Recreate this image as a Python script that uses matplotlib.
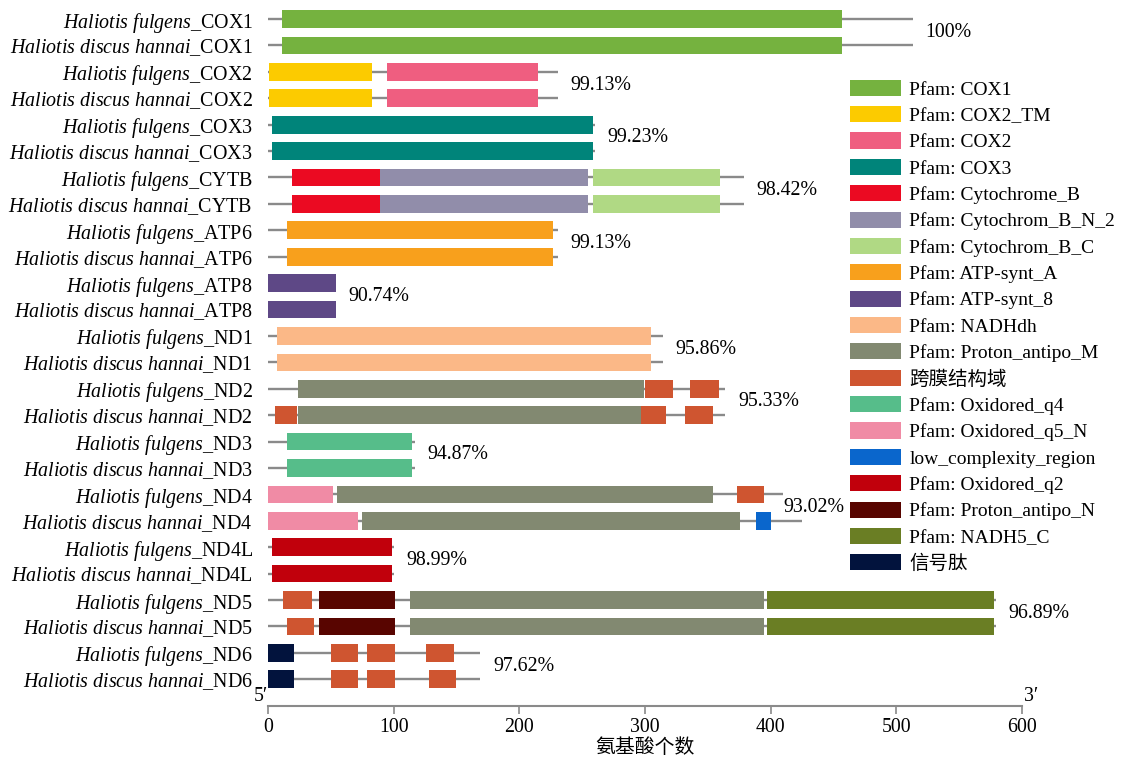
import matplotlib
matplotlib.use('Agg')
import matplotlib.pyplot as plt
from matplotlib.patches import Patch

plt.rcParams['font.family'] = ['Liberation Serif', 'Noto Sans CJK SC']
plt.rcParams['mathtext.fontset'] = 'custom'
plt.rcParams['mathtext.rm'] = 'Liberation Serif'
plt.rcParams['mathtext.it'] = 'Liberation Serif:italic'

# genes and pairwise identity between the two abalones
genes = ['COX1', 'COX2', 'COX3', 'CYTB', 'ATP6', 'ATP8', 'ND1',
         'ND2', 'ND3', 'ND4', 'ND4L', 'ND5', 'ND6']
identity = ['100%', '99.13%', '99.23%', '98.42%', '99.13%', '90.74%', '95.86%',
            '95.33%', '94.87%', '93.02%', '98.99%', '96.89%', '97.62%']
species = ['Haliotis fulgens', 'Haliotis discus hannai']

# protein lengths (aa)
len_fulgens = [513, 231, 260, 379, 231, 54, 314, 364, 117, 410, 100, 579, 169]
len_hannai = [513, 231, 260, 379, 231, 54, 314, 364, 117, 425, 100, 579, 169]

# domains: (start, end, type)
dom_fulgens = [
    [(11, 457, 'COX1')],
    [(1, 83, 'COX2_TM'), (95, 215, 'COX2')],
    [(3, 259, 'COX3')],
    [(19, 89, 'CytB'), (89, 255, 'CytB_N2'), (259, 360, 'CytB_C')],
    [(15, 227, 'ATPA')],
    [(0, 54, 'ATP8')],
    [(7, 305, 'NADHdh')],
    [(24, 299, 'PAM'), (300, 322, 'TM'), (336, 359, 'TM')],
    [(15, 115, 'q4')],
    [(0, 52, 'q5N'), (55, 354, 'PAM'), (373, 395, 'TM')],
    [(3, 99, 'q2')],
    [(12, 35, 'TM'), (41, 101, 'PAN'), (113, 395, 'PAM'), (397, 578, 'N5C')],
    [(0, 21, 'SP'), (50, 72, 'TM'), (79, 101, 'TM'), (126, 148, 'TM')],
]
dom_hannai = [
    [(11, 457, 'COX1')],
    [(1, 83, 'COX2_TM'), (95, 215, 'COX2')],
    [(3, 259, 'COX3')],
    [(19, 89, 'CytB'), (89, 255, 'CytB_N2'), (259, 360, 'CytB_C')],
    [(15, 227, 'ATPA')],
    [(0, 54, 'ATP8')],
    [(7, 305, 'NADHdh')],
    [(6, 23, 'TM'), (24, 297, 'PAM'), (297, 317, 'TM'), (332, 354, 'TM')],
    [(15, 115, 'q4')],
    [(0, 72, 'q5N'), (75, 376, 'PAM'), (388, 400, 'LCR')],
    [(3, 99, 'q2')],
    [(15, 37, 'TM'), (41, 101, 'PAN'), (113, 395, 'PAM'), (397, 578, 'N5C')],
    [(0, 21, 'SP'), (50, 72, 'TM'), (79, 101, 'TM'), (128, 150, 'TM')],
]

dom_keys = ['COX1', 'COX2_TM', 'COX2', 'COX3', 'CytB', 'CytB_N2', 'CytB_C',
            'ATPA', 'ATP8', 'NADHdh', 'PAM', 'TM', 'q4', 'q5N', 'LCR',
            'q2', 'PAN', 'N5C', 'SP']
dom_labels = ['Pfam: COX1', 'Pfam: COX2_TM', 'Pfam: COX2', 'Pfam: COX3',
              'Pfam: Cytochrome_B', 'Pfam: Cytochrom_B_N_2', 'Pfam: Cytochrom_B_C',
              'Pfam: ATP-synt_A', 'Pfam: ATP-synt_8', 'Pfam: NADHdh',
              'Pfam: Proton_antipo_M', '跨膜结构域', 'Pfam: Oxidored_q4',
              'Pfam: Oxidored_q5_N', 'low_complexity_region', 'Pfam: Oxidored_q2',
              'Pfam: Proton_antipo_N', 'Pfam: NADH5_C', '信号肽']
dom_colors = ['#75B23F', '#FCCB00', '#EF5E80', '#00847A', '#EB0A22', '#918DAA',
              '#B0D984', '#F8A01C', '#5E4886', '#FBB887', '#828971', '#CF5530',
              '#56BD8A', '#F08BA5', '#0A66CC', '#C1000C', '#580500', '#6A7E24',
              '#02133D']
color_of = dict(zip(dom_keys, dom_colors))

fig = plt.figure(figsize=(11.23, 7.58), dpi=100)
ax = fig.add_axes([0.2386, 0.069, 0.6714, 0.931])

bar_h = 0.67
ylabels = []
for g, gene in enumerate(genes):
    pair = [(len_fulgens[g], dom_fulgens[g]), (len_hannai[g], dom_hannai[g])]
    for s, (length, doms) in enumerate(pair):
        y = 2 * g + s
        ax.plot([0, length], [y, y], color='#8A8A8A', lw=1.7, zorder=1,
                solid_capstyle='butt')
        for start, end, key in doms:
            ax.barh(y, end - start, left=start, height=bar_h,
                    color=color_of[key], linewidth=0, zorder=2)
        name = species[s].replace(' ', r'\ ')
        ylabels.append(r'$\mathit{' + name + '}$_' + gene)
    la, lb = len_fulgens[g], len_hannai[g]
    lx = min(la, lb) + (10 if la == lb else 0)
    ax.text(lx, 2 * g + 0.5, identity[g], fontsize=14.3, ha='left', va='center')

ax.set_yticks(range(len(ylabels)))
ax.set_yticklabels(ylabels, fontsize=14.4)
ax.tick_params(axis='y', length=0, pad=11)
ax.set_ylim(26.0, -0.72)
ax.set_xlim(0, 600)
ax.set_xticks([0, 100, 200, 300, 400, 500, 600])
ax.tick_params(axis='x', direction='out', length=6, width=1.2, color='#8A8A8A',
               labelsize=14.3, pad=3)
for side in ['top', 'right', 'left']:
    ax.spines[side].set_visible(False)
ax.spines['bottom'].set_color('#8A8A8A')
ax.spines['bottom'].set_linewidth(1.5)
ax.set_xlabel('氨基酸个数', fontsize=14.3, labelpad=1)

ax.text(0, 26.0, '5′', fontsize=14.3, ha='right', va='bottom')
ax.text(602, 26.0, '3′', fontsize=14.3, ha='left', va='bottom')

handles = [Patch(facecolor=c, edgecolor='none', label=l)
           for c, l in zip(dom_colors, dom_labels)]
ax.legend(handles=handles, loc='upper left', bbox_to_anchor=(0.772, 0.887),
          frameon=False, fontsize=14, handlelength=2.6, handleheight=0.9,
          handletextpad=0.45, labelspacing=0.39, borderpad=0, borderaxespad=0)

fig.savefig('out.png', dpi=100)
